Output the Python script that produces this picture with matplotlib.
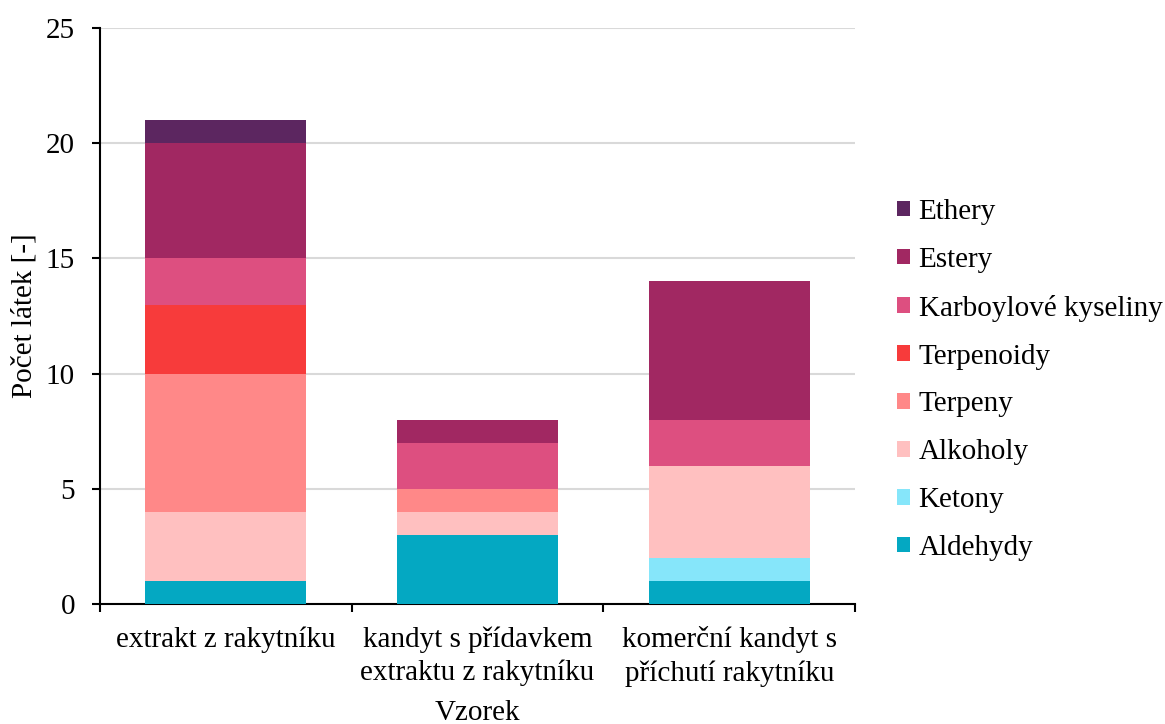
import numpy as np
import matplotlib.pyplot as plt

plt.rcParams['font.family'] = ['Liberation Serif', 'DejaVu Serif']

samples = ["extrakt z rakytníku", "kandyt s přídavkem\nextraktu z rakytníku",
           "komerční kandyt s\npříchutí rakytníku"]
groups = ["Aldehydy", "Ketony", "Alkoholy", "Terpeny", "Terpenoidy",
          "Karboylové kyseliny", "Estery", "Ethery"]
aldehydy = [1, 3, 1]
ketony = [0, 0, 1]
alkoholy = [3, 1, 4]
terpeny = [6, 1, 0]
terpenoidy = [3, 0, 0]
karboylove = [2, 2, 2]
estery = [5, 1, 6]
ethery = [1, 0, 0]
colors = ['#04A8C2', '#86E6FA', '#FFC0C0', '#FF8888', '#F73B3B',
          '#DD4F80', '#A12862', '#5C2660']

series = [aldehydy, ketony, alkoholy, terpeny, terpenoidy, karboylove, estery, ethery]

fig = plt.figure(figsize=(11.65, 7.24), dpi=100)
ax = fig.add_axes([0.0858, 0.1657, 0.6482, 0.7956])

x = np.arange(len(samples))
bottom = np.zeros(len(samples))
handles = []
for name, vals, c in zip(groups, series, colors):
    vals = np.array(vals)
    h = ax.bar(x, vals, bottom=bottom, color=c, width=0.64, label=name, zorder=3)
    handles.append(h)
    bottom += vals

ax.set_xlim(-0.5, 2.5)
ax.set_ylim(0, 25)
ax.set_yticks(np.arange(0, 26, 5))
ax.yaxis.grid(True, color='#D9D9D9', linewidth=1.5, zorder=0)
ax.set_xticks(x)
ax.set_xticklabels(samples, fontsize=21, linespacing=1.34)
ax.set_xticks([-0.5, 0.5, 1.5, 2.5], minor=True)
ax.tick_params(axis='x', which='major', length=0, pad=16)
ax.tick_params(axis='x', which='minor', length=6, width=1.5, direction='out')
ax.tick_params(axis='y', labelsize=21, length=6, width=1.5, direction='out', pad=12)
for s in ['top', 'right']:
    ax.spines[s].set_visible(False)
for s in ['left', 'bottom']:
    ax.spines[s].set_linewidth(1.5)

ax.set_xlabel("Vzorek", fontsize=21)
ax.xaxis.set_label_coords(0.5, -0.166)
ax.set_ylabel("Počet látek [-]", fontsize=21, labelpad=6)

ax.legend(handles[::-1], groups[::-1], loc='center left', bbox_to_anchor=(1.055, 0.389),
          frameon=False, fontsize=21, handlelength=0.45, handleheight=0.45,
          handletextpad=0.3, labelspacing=0.75, borderaxespad=0, borderpad=0)

fig.savefig("out.png", dpi=100)
